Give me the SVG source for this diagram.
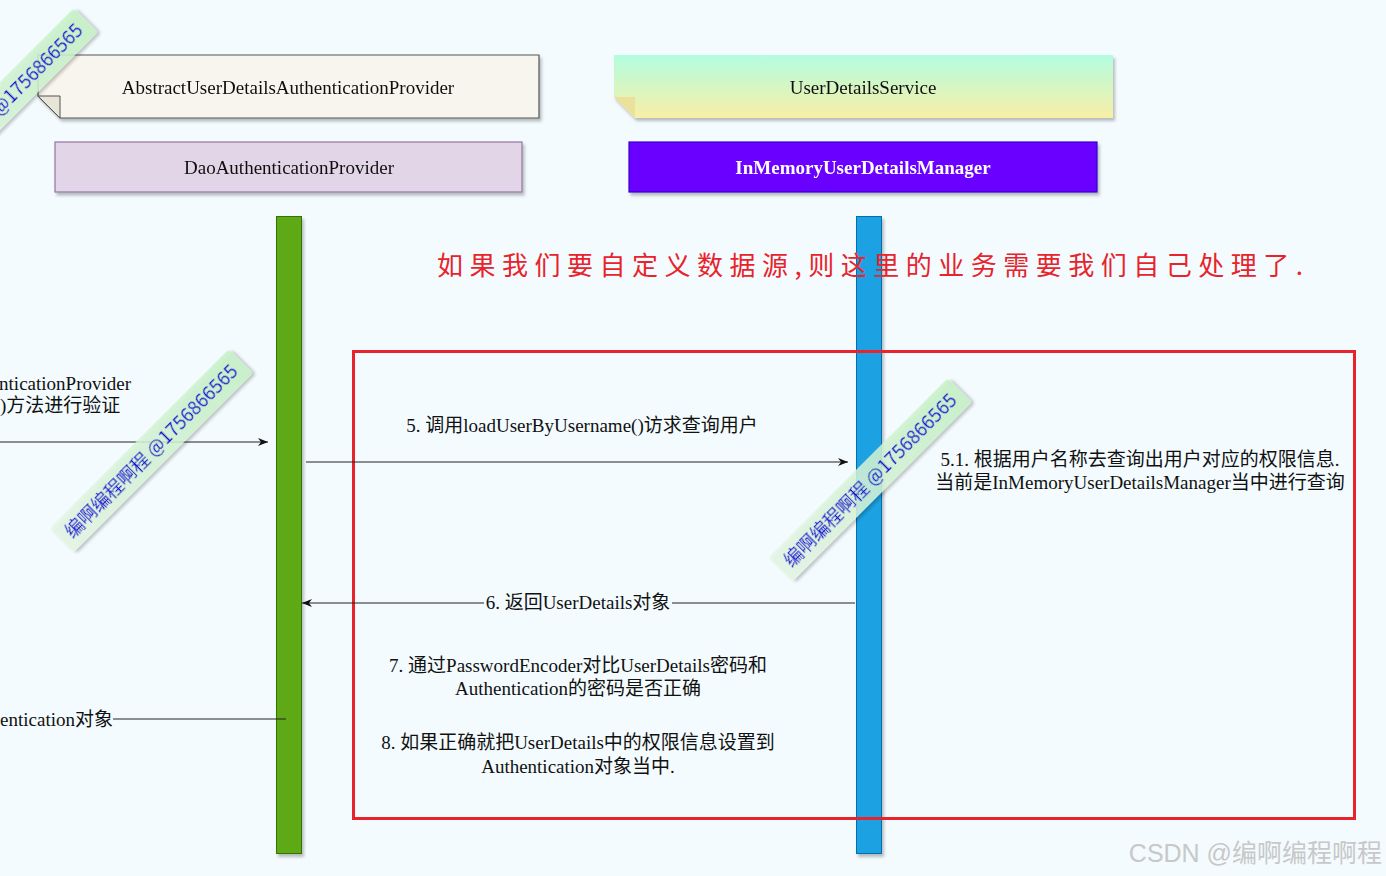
<svg xmlns="http://www.w3.org/2000/svg" width="1386" height="876" viewBox="0 0 1386 876">
<defs>
<style>
.t{font-family:"Liberation Serif","Noto Sans CJK SC",serif;font-size:19px;fill:#111;}
.c{text-anchor:middle;}
.ln{stroke:#222;stroke-width:1.2;fill:none;}
.wm rect{fill:url(#wmg);stroke:none;}
.wm text{font-family:"Noto Sans CJK SC","Liberation Sans",sans-serif;font-size:18.5px;fill:#1010d0;text-anchor:middle;}
</style>
<linearGradient id="uds" x1="0" y1="0" x2="0" y2="1">
<stop offset="0" stop-color="#b2fde0"/>
<stop offset="1" stop-color="#f9efa6"/>
</linearGradient>
<linearGradient id="wmg" x1="0" y1="0" x2="1" y2="0">
<stop offset="0" stop-color="#e6f6e6" stop-opacity="0.85"/>
<stop offset="1" stop-color="#c6f2c6" stop-opacity="0.85"/>
</linearGradient>
<filter id="sh" x="-10%" y="-10%" width="130%" height="140%">
<feDropShadow dx="2" dy="3" stdDeviation="1.5" flood-color="#000" flood-opacity="0.25"/>
</filter>
<marker id="arr" viewBox="0 0 10 10" refX="10" refY="5" markerWidth="10" markerHeight="10" markerUnits="userSpaceOnUse" orient="auto">
<path d="M0,1 L10,5 L0,9 L3,5 Z" fill="#111"/>
</marker>
</defs>
<rect width="1386" height="876" fill="#f3fbfe"/>

<g id="abstract-provider" filter="url(#sh)">
<path d="M38,55 H539 V118 H60 L38,96 Z" fill="#f8f5ee" stroke="#555" stroke-width="1.2"/>
<path d="M38,96 H60 V118 Z" fill="#e8e4d8" stroke="#555" stroke-width="1"/>
<text class="t c" x="288" y="94">AbstractUserDetailsAuthenticationProvider</text>
</g>

<g id="user-details-service" filter="url(#sh)">
<path d="M614,55 H1113 V118 H635 L614,97 Z" fill="url(#uds)"/>
<path d="M614,97 H635 V118 Z" fill="#ebe19a"/>
<text class="t c" x="863" y="94">UserDetailsService</text>
</g>

<g id="dao-provider" filter="url(#sh)">
<rect x="55" y="142" width="467" height="50" fill="#e1d5e7" stroke="#9673a6" stroke-width="1.2"/>
<text class="t c" x="289" y="174">DaoAuthenticationProvider</text>
</g>

<g id="inmemory-manager" filter="url(#sh)">
<rect x="629" y="142" width="468" height="50" fill="#6a00ff" stroke="#3700cc" stroke-width="1.2"/>
<text class="t c" x="863" y="174" style="fill:#fff;font-weight:bold">InMemoryUserDetailsManager</text>
</g>

<g id="dao-lifeline" filter="url(#sh)">
<rect x="276.5" y="216.5" width="25" height="637" fill="#60a917" stroke="#2d7600" stroke-width="1"/>
</g>
<g id="inmemory-lifeline" filter="url(#sh)">
<rect x="856.5" y="216.5" width="25" height="637" fill="#1ba1e2" stroke="#006eaf" stroke-width="1"/>
</g>

<g id="custom-note">
<text x="437" y="275" textLength="866" lengthAdjust="spacing" style="font-family:'Noto Sans CJK SC',sans-serif;font-size:26px;fill:#e8232b">如果我们要自定义数据源,则这里的业务需要我们自己处理了.</text>
</g>

<g id="custom-region">
<rect x="353.5" y="351.5" width="1001" height="467" fill="none" stroke="#e8232b" stroke-width="3"/>
</g>

<g id="connectors">
<path class="ln" d="M0,442 H268" marker-end="url(#arr)"/>
<path class="ln" d="M306,462 H848" marker-end="url(#arr)"/>
<path class="ln" d="M855,603 H302" marker-end="url(#arr)"/>
<path class="ln" d="M113,719 H286"/>
</g>

<g id="labels">
<text class="t" x="131" y="390" text-anchor="end">nticationProvider</text>
<text class="t" x="0" y="412">)方法进行验证</text>
<text class="t c" x="582" y="432">5. 调用loadUserByUsername()访求查询用户</text>
<text class="t c" x="1140" y="466">5.1. 根据用户名称去查询出用户对应的权限信息.</text>
<text class="t c" x="1140" y="489">当前是InMemoryUserDetailsManager当中进行查询</text>
<rect x="484" y="592" width="188" height="22" fill="#f3fbfe"/>
<text class="t c" x="578" y="609">6. 返回UserDetails对象</text>
<text class="t c" x="578" y="672">7. 通过PasswordEncoder对比UserDetails密码和</text>
<text class="t c" x="578" y="695">Authentication的密码是否正确</text>
<rect x="0" y="708" width="113" height="22" fill="#f3fbfe"/>
<text class="t" x="113" y="726" text-anchor="end">entication对象</text>
<text class="t c" x="578" y="749">8. 如果正确就把UserDetails中的权限信息设置到</text>
<text class="t c" x="578" y="773">Authentication对象当中.</text>
</g>

<g id="watermark-1" class="wm" transform="translate(-4,110) rotate(-45)" filter="url(#sh)">
<rect x="-127" y="-17" width="254" height="34" rx="4"/>
<text x="0" y="6.5">编啊编程啊程 @1756866565</text>
</g>
<g id="watermark-2" class="wm" transform="translate(151,451) rotate(-45)" filter="url(#sh)">
<rect x="-127" y="-17" width="254" height="34" rx="4"/>
<text x="0" y="6.5">编啊编程啊程 @1756866565</text>
</g>
<g id="watermark-3" class="wm" transform="translate(870,480) rotate(-45)" filter="url(#sh)">
<rect x="-127" y="-17" width="254" height="34" rx="4"/>
<text x="0" y="6.5">编啊编程啊程 @1756866565</text>
</g>

<text x="1382" y="862" text-anchor="end" style="font-family:'Liberation Sans','Noto Sans CJK SC',sans-serif;font-size:25px;fill:#c8c8c8">CSDN @编啊编程啊程</text>
</svg>
